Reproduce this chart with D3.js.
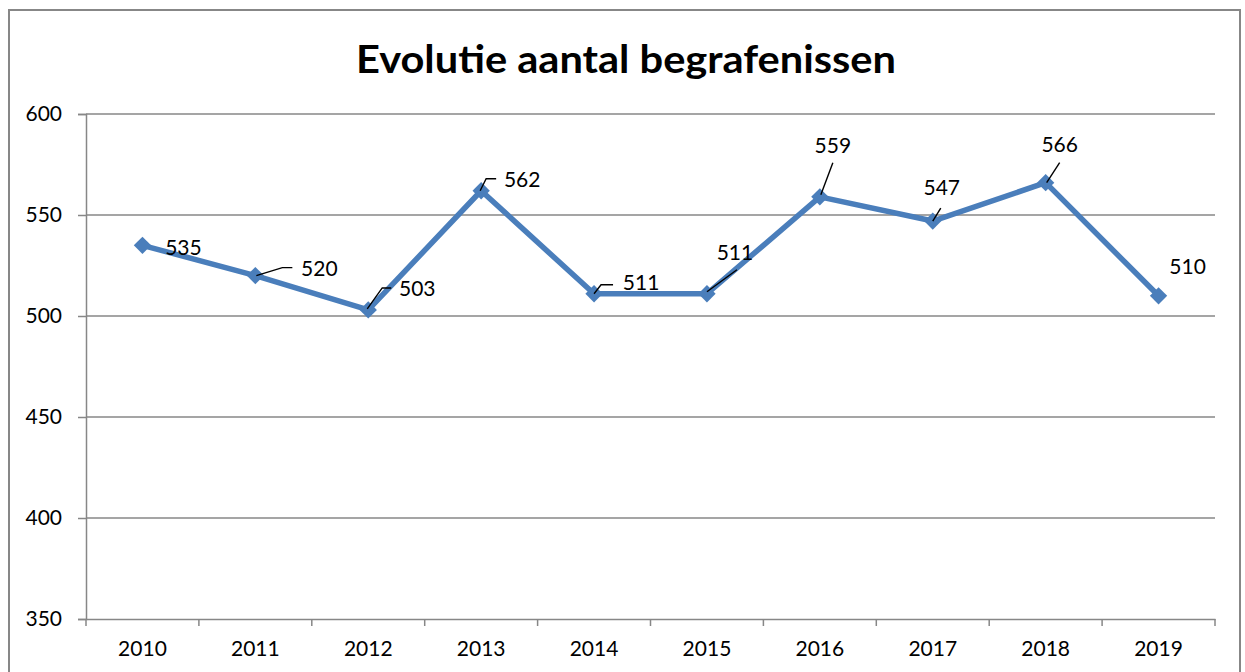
<!DOCTYPE html>
<html>
<head>
<meta charset="utf-8">
<script src="https://cdn.jsdelivr.net/npm/d3@7"></script>
<style>
  html, body { margin: 0; padding: 0; background: #fff; }
  svg { display: block; }
  text { font-family: Lato, "Open Sans", sans-serif; fill: #000; }
</style>
</head>
<body>
<svg width="1245" height="672"></svg>
<script>
const years = ["2010", "2011", "2012", "2013", "2014", "2015", "2016", "2017", "2018", "2019"];
const counts = [535, 520, 503, 562, 511, 511, 559, 547, 566, 510];
const yTicks = [350, 400, 450, 500, 550, 600];
const title = "Evolutie aantal begrafenissen";

// label placement (px, relative to the point) and leader lines, as placed in the original
const labelOffsets = [[41, 2], [64, -7], [49, -21], [41, -11], [47, -11], [28, -41], [13, -51], [9, -33], [14, -38], [29, -29]];
const leaders = [
  null,
  [[1, 0], [27, -8], [37, -8]],
  [[-1, -1], [14, -22], [23, -22]],
  [[-1, 0], [5, -12], [15, -12]],
  [[0, 0], [7, -9], [19, -9]],
  [[0, -2], [30, -24]],
  [[1, -2], [13, -34]],
  [[0, 0], [8, -13]],
  [[1, 0], [14, -20]],
  null
];

var margin = { top: 114, right: 30, bottom: 53, left: 86 },
  width = 1245, height = 672;

var svg = d3.select("svg");
var grey = "#878787";

// outer chart border
svg.append("rect")
  .attr("x", 9).attr("y", 10)
  .attr("width", 1231).attr("height", 680)
  .attr("fill", "none").attr("stroke", grey).attr("stroke-width", 2);

svg.append("text")
  .attr("x", 626).attr("y", 73)
  .attr("text-anchor", "middle")
  .attr("font-size", 39).attr("font-weight", "bold")
  .attr("textLength", 540).attr("lengthAdjust", "spacingAndGlyphs")
  .text(title);

var x = d3.scaleBand().domain(years).range([margin.left, width - margin.right]);
var y = d3.scaleLinear().domain([350, 600]).range([height - margin.bottom, margin.top]);

// gridlines
svg.append("g").selectAll("line").data(yTicks.slice(1)).enter().append("line")
  .attr("x1", margin.left).attr("x2", width - margin.right)
  .attr("y1", d => y(d)).attr("y2", d => y(d))
  .attr("stroke", grey).attr("stroke-width", 1.5);

var axisY = d3.axisLeft(y).tickValues(yTicks).tickSize(8).tickPadding(16);
var gy = svg.append("g").attr("transform", "translate(" + margin.left + ",0)").call(axisY);
gy.select(".domain").attr("stroke", grey).attr("stroke-width", 1.5);
gy.selectAll(".tick line").attr("stroke", grey).attr("stroke-width", 1.5);
gy.selectAll(".tick text").attr("font-size", 21).attr("font-family", "Lato, sans-serif").attr("fill", "#000");

var axisX = d3.axisBottom(x).tickSize(0).tickPadding(22);
var gx = svg.append("g").attr("transform", "translate(0," + y(350) + ")").call(axisX);
gx.select(".domain").attr("stroke", grey).attr("stroke-width", 1.5);
gx.selectAll(".tick text").attr("font-size", 21).attr("font-family", "Lato, sans-serif").attr("fill", "#000");
// category boundary ticks
gx.append("g").selectAll("line").data(d3.range(years.length + 1)).enter().append("line")
  .attr("x1", i => margin.left + i * x.step())
  .attr("x2", i => margin.left + i * x.step())
  .attr("y1", 0).attr("y2", 7)
  .attr("stroke", grey).attr("stroke-width", 1.5);

var px = (d, i) => x(years[i]) + x.bandwidth() / 2;
var py = d => y(d);

var line = d3.line().x(px).y(py);
svg.append("path")
  .datum(counts)
  .attr("d", line)
  .attr("fill", "none")
  .attr("stroke", "#4a7ebb")
  .attr("stroke-width", 5.5)
  .attr("stroke-linejoin", "round");

svg.append("g").selectAll("path").data(counts).enter().append("path")
  .attr("d", d3.symbol(d3.symbolSquare, 150))
  .attr("transform", (d, i) => "translate(" + px(d, i) + "," + py(d) + ") rotate(45)")
  .attr("fill", "#4a7ebb");

// leader lines
counts.forEach((d, i) => {
  if (!leaders[i]) return;
  var cx = px(d, i), cy = py(d);
  svg.append("polyline")
    .attr("points", leaders[i].map(p => (cx + p[0]) + "," + (cy + p[1])).join(" "))
    .attr("fill", "none").attr("stroke", "#000").attr("stroke-width", 1.4);
});

svg.append("g").selectAll("text").data(counts).enter().append("text")
  .attr("x", (d, i) => px(d, i) + labelOffsets[i][0])
  .attr("y", (d, i) => py(d) + labelOffsets[i][1])
  .attr("dy", "0.35em")
  .attr("text-anchor", "middle")
  .attr("font-size", 21)
  .text(d => d);
</script>
</body>
</html>
